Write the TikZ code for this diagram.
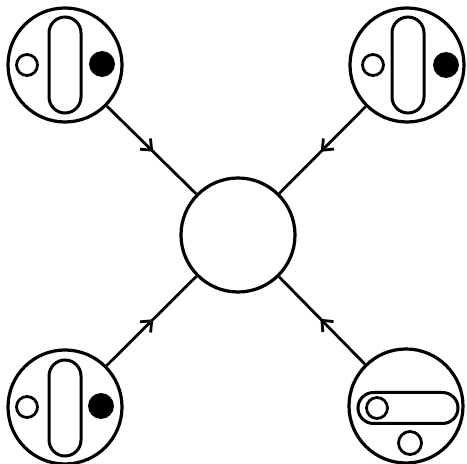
\documentclass[tikz,border=0pt]{standalone}
\usepackage{tikz}
\usetikzlibrary{arrows.meta,decorations.markings}

\begin{document}
\begin{tikzpicture}[
    x=0.5pt, y=-0.5pt,
    disc/.style={circle, draw, line width=1.6pt, minimum size=57pt, inner sep=0pt},
    slot/.style={rectangle, draw, line width=1.5pt, rounded corners=8pt,
    minimum width=16pt, minimum height=48pt, inner sep=0pt},
    hslot/.style={slot, rounded corners=7.75pt, minimum width=50pt, minimum height=15.5pt},
    hole/.style={circle, draw, line width=1.4pt, minimum size=10.5pt, inner sep=0pt},
    ball/.style={hole, fill, minimum size=11.5pt},
    flow/.style={line width=1.4pt, postaction={decorate},
    decoration={markings, mark=at position 0.52 with
    {\arrow{Straight Barb[length=4.5pt, width=7.5pt, line width=1.4pt]}}}}
]
\useasboundingbox (0,0) rectangle (467,464);
% outer discs
\node[disc] (tl) at (65,65) {};
\node[disc] (tr) at (407,65) {};
\node[disc] (bl) at (65,407) {};
\node[disc] (br) at (406,406) {};
\node[disc] (hub) at (238,235) {};
% top left
\node[slot] (tlslot) at (65,65) {};
\node[hole] (tlhole) at (27,65) {};
\node[ball] (tlball) at (102,64) {};
% top right
\node[slot] (trslot) at (408,65) {};
\node[hole] (trhole) at (373,65) {};
\node[ball] (trball) at (446,65) {};
% bottom left
\node[slot] (blslot) at (65,408) {};
\node[hole] (blhole) at (27,407) {};
\node[ball] (blball) at (101,406) {};
% bottom right
\node[hslot] (brslot) at (408,408) {};
\node[hole] (brhole) at (377,408) {};
\node[hole, minimum size=11.5pt] (brlow) at (410,443) {};
% connectors
\draw[flow] (tl) -- (hub);
\draw[flow] (tr) -- (hub);
\draw[flow] (bl) -- (hub);
\draw[flow] (br) -- (hub);
\end{tikzpicture}
\end{document}
